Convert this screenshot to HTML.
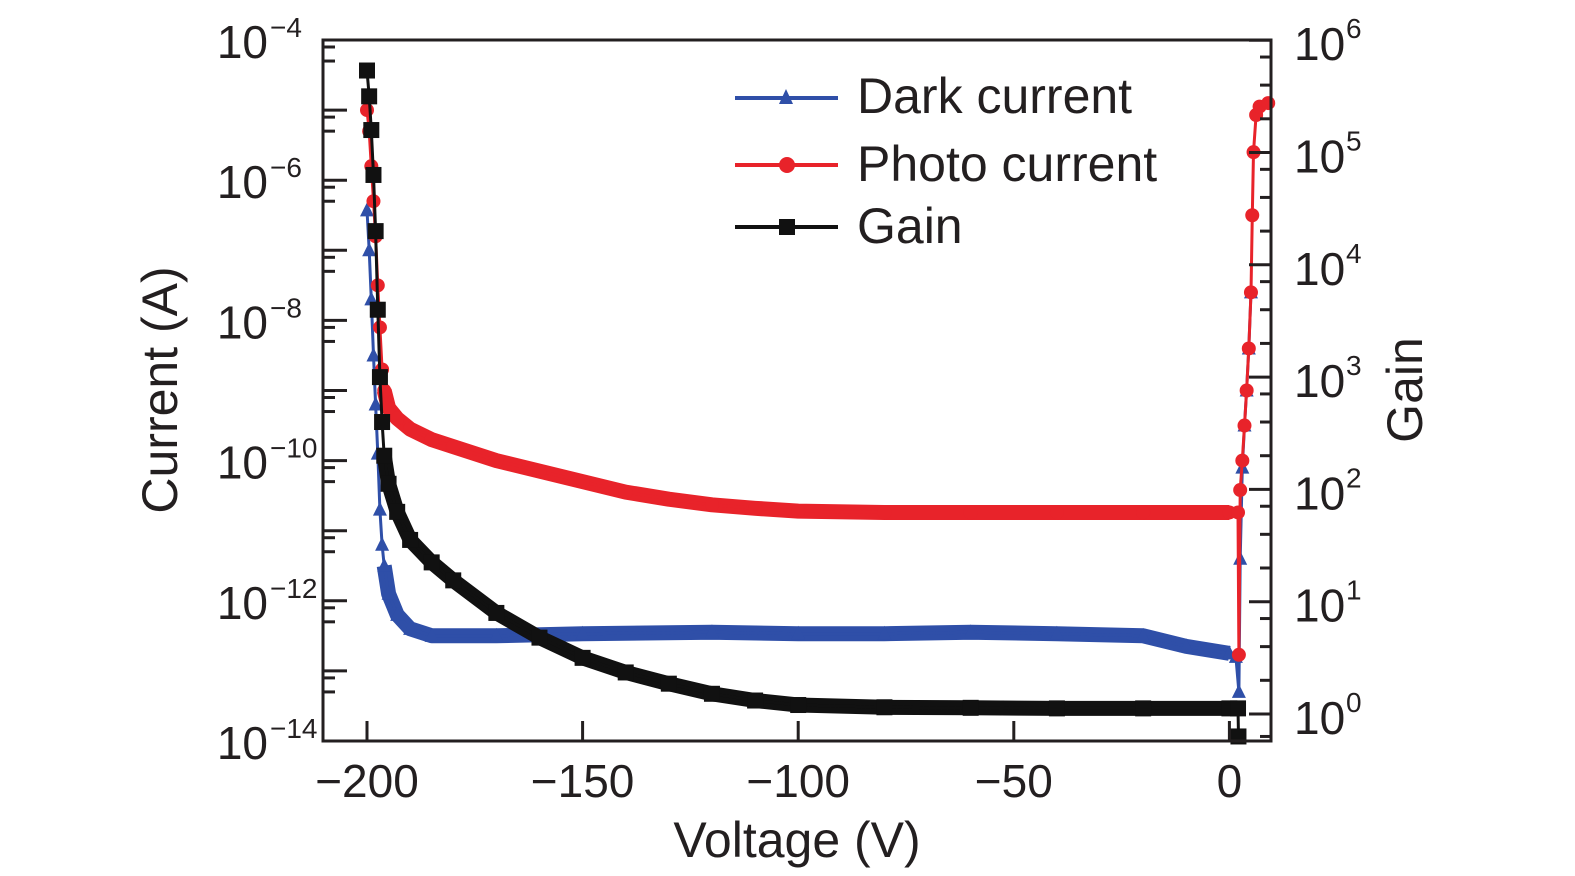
<!DOCTYPE html>
<html><head><meta charset="utf-8"><style>
body{margin:0;background:#fff;}
svg{display:block;font-family:"Liberation Sans",sans-serif;}
</style></head><body>
<svg id="chart" width="1575" height="876" viewBox="0 0 1575 876" xmlns="http://www.w3.org/2000/svg">
<g id="plot"></g>
<g id="axes"></g>
<g id="legend">
  <line x1="735" y1="98" x2="838" y2="98" stroke="#2f4fa8" stroke-width="4"/>
  <polygon points="786,89 779,104 793,104" fill="#2f4fa8"/>
  <text x="857" y="113" font-size="50" fill="#231f20">Dark current</text>
  <line x1="735" y1="165" x2="838" y2="165" stroke="#e8232a" stroke-width="4"/>
  <circle cx="787" cy="165" r="8" fill="#e8232a"/>
  <text x="857" y="181" font-size="50" fill="#231f20">Photo current</text>
  <line x1="735" y1="227" x2="838" y2="227" stroke="#111" stroke-width="4"/>
  <rect x="779" y="219" width="16" height="16" fill="#111"/>
  <text x="857" y="243" font-size="50" fill="#231f20">Gain</text>
</g>
</svg>
<script>
const photoV=[-200,-199.5,-199,-198.5,-198,-197.5,-197,-196.5,-196,-195,-193,-190,-185,-180,-170,-160,-150,-140,-130,-120,-110,-100,-80,-60,-40,-20,0,2,2.2,2.5,3,3.5,4,4.5,5,5.3,5.6,6.2,7,9];
const photoLog=[-5,-5.3,-5.8,-6.3,-6.8,-7.5,-8.1,-8.7,-9.0,-9.25,-9.4,-9.55,-9.7,-9.8,-10,-10.15,-10.3,-10.45,-10.55,-10.63,-10.68,-10.72,-10.74,-10.74,-10.74,-10.74,-10.74,-10.74,-12.77,-10.42,-10.0,-9.5,-9.0,-8.4,-7.6,-6.5,-5.6,-5.07,-4.95,-4.9];
const darkV=[-200,-199.5,-199,-198.5,-198,-197.5,-197,-196.5,-196,-195,-193,-190,-185,-170,-150,-120,-100,-80,-60,-40,-20,-10,0,1.5,2.2,2.5,3,3.5,4,4.5,5];
const darkLog=[-6.43,-7,-7.7,-8.5,-9.2,-9.9,-10.7,-11.2,-11.5,-11.9,-12.2,-12.4,-12.5,-12.5,-12.47,-12.45,-12.47,-12.47,-12.45,-12.47,-12.5,-12.65,-12.75,-12.8,-13.3,-11.4,-10.1,-9.5,-9.0,-8.4,-7.6];
const gainV=[-200,-199.5,-199,-198.5,-198,-197.5,-197,-196.5,-196,-195,-193,-190,-185,-180,-170,-160,-150,-140,-130,-120,-110,-100,-80,-60,-40,-20,0,2,2.1];
const gainLog=[5.73,5.5,5.2,4.8,4.3,3.6,3.0,2.6,2.3,2.05,1.8,1.55,1.35,1.19,0.9,0.68,0.5,0.37,0.27,0.18,0.12,0.08,0.06,0.055,0.05,0.05,0.05,0.05,-0.2];
const xTicks=[-200,-150,-100,-50,0];
const xTickLabels=["\u2212200","\u2212150","\u2212100","\u221250","0"];
const leftExps=[-4,-6,-8,-10,-12,-14];
const rightExps=[0,1,2,3,4,5,6];

const NS="http://www.w3.org/2000/svg";
const X0=323,X1=1271,Y0=40,Y1=741;
function xs(v){return 367+(v+200)*4.312;}
function yl(lg){return 40+(-4-lg)*70.1;}
function yr(lg){return 714-lg*112.3;}
function mk(tag,attrs,parent){const e=document.createElementNS(NS,tag);for(const k in attrs)e.setAttribute(k,attrs[k]);parent.appendChild(e);return e;}
const plot=document.getElementById('plot'),axes=document.getElementById('axes');

function series(V,L,yf,color,shape,name){
  const g=mk('g',{},plot);
  
  
  const band=[],all=[];
  V.forEach((v,i)=>{const p=xs(v).toFixed(1)+','+yf(L[i]).toFixed(1);all.push(p);if(v>=-196&&v<=0)band.push(p);});
  mk('polyline',{points:band.join(' '),fill:'none',stroke:color,'stroke-width':15,'stroke-linejoin':'round'},g);
  mk('polyline',{points:all.join(' '),fill:'none',stroke:color,'stroke-width':3},g);
  V.forEach((v,i)=>{const x=xs(v),y=yf(L[i]);let m;
    if(shape==='tri')m=mk('polygon',{points:`${x},${y-8} ${x-7},${y+6} ${x+7},${y+6}`,fill:color},g);
    else if(shape==='circ')m=mk('circle',{cx:x,cy:y,r:7,fill:color},g);
    else m=mk('rect',{x:x-8,y:y-8,width:16,height:16,fill:color},g);
    
    
  });
}
series(darkV,darkLog,yl,'#2f4fa8','tri','dark-current-series');
series(photoV,photoLog,yl,'#e8232a','circ','photo-current-series');
series(gainV,gainLog,yr,'#111','sq','gain-series');

// frame
mk('path',{d:`M${X0},${Y0} L${X1},${Y0} L${X1},${Y1} L${X0},${Y1} Z`,fill:'none',stroke:'#231f20','stroke-width':3},axes);
// x ticks
xTicks.forEach((v,i)=>{const x=xs(v);
  mk('line',{x1:x,y1:Y1,x2:x,y2:Y1-20,stroke:'#231f20','stroke-width':3},axes);
  const t=mk('text',{x:x,y:797,'font-size':46,'text-anchor':'middle',fill:'#231f20'},axes);t.textContent=xTickLabels[i];
  
  
});
// left ticks
for(let e=-14;e<=-4;e++){const y=yl(e);
  mk('line',{x1:X0,y1:y,x2:X0+24,y2:y,stroke:'#231f20','stroke-width':3},axes);
  if(e<-4){[0.9,0.7].forEach(f=>{const yy=yl(e+f);mk('line',{x1:X0,y1:yy,x2:X0+12,y2:yy,stroke:'#231f20','stroke-width':3},axes);});}
}
leftExps.forEach(e=>{const y=yl(e);
  const t=mk('text',{x:268,y:y+18,'font-size':46,'text-anchor':'end',fill:'#231f20'},axes);t.textContent='10';
  
  
  const s=mk('text',{x:270,y:y-3,'font-size':28,fill:'#231f20'},axes);s.textContent='\u2212'+(-e);
});
// right ticks
for(let e=0;e<=6;e++){const y=yr(e);
  mk('line',{x1:X1,y1:y,x2:X1-22,y2:y,stroke:'#231f20','stroke-width':3},axes);
  [0.3,0.6,0.85].forEach(f=>{const yy=yr(e+f);if(yy>Y0)mk('line',{x1:X1,y1:yy,x2:X1-11,y2:yy,stroke:'#231f20','stroke-width':3},axes);});
}
mk('line',{x1:X1,y1:yr(-0.2),x2:X1-11,y2:yr(-0.2),stroke:'#231f20','stroke-width':3},axes);
rightExps.forEach(e=>{const y=yr(e);
  const t=mk('text',{x:1294,y:y+20,'font-size':46,fill:'#231f20'},axes);t.textContent='10';
  
  
  const s=mk('text',{x:1346,y:y-2,'font-size':28,fill:'#231f20'},axes);s.textContent=String(e);
});
// axis titles
let t=mk('text',{x:797,y:857,'font-size':50,'text-anchor':'middle',fill:'#231f20'},axes);t.textContent='Voltage (V)';


t=mk('text',{x:0,y:0,'font-size':50,'text-anchor':'middle',fill:'#231f20',transform:'translate(177,390) rotate(-90)'},axes);t.textContent='Current (A)';


t=mk('text',{x:0,y:0,'font-size':50,'text-anchor':'middle',fill:'#231f20',transform:'translate(1422,390) rotate(-90)'},axes);t.textContent='Gain';


</script>
</body></html>
